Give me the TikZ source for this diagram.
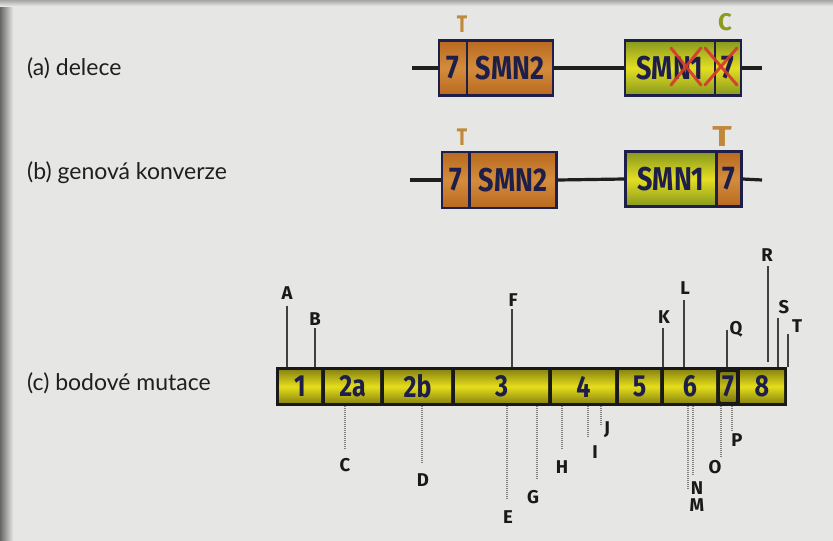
\documentclass[tikz,border=0pt]{standalone}
\usepackage{fontspec}
\usepackage{graphicx}
\setmainfont{Lato}
\newfontfamily\myboxfam{Fira Sans}
\newcommand\mytall[1]{\scalebox{1}[1.22]{#1}}
\definecolor{bgc}{HTML}{E6E6E4}
\definecolor{navy}{HTML}{1D1F4A}
\definecolor{or1}{HTML}{B8691F}
\definecolor{or2}{HTML}{D48C3C}
\definecolor{gr1}{HTML}{86981E}
\definecolor{gr2}{HTML}{E4DE22}
\definecolor{ex1}{HTML}{8E8A12}
\definecolor{ex2}{HTML}{E6DE1A}
\definecolor{ex3}{HTML}{7E7A10}
\definecolor{ex4}{HTML}{C8C018}
\definecolor{redx}{HTML}{D6382E}
\definecolor{tcol}{HTML}{C0883A}
\definecolor{ccol}{HTML}{8C9A1E}
\begin{document}
\begin{tikzpicture}[x=1pt,y=-1pt,
  gline/.style={line width=3.2pt, black!88},
  genebox/.style={draw=navy, line width=2.3pt, inner sep=0pt, text=navy,
     font=\fontsize{27}{27}\selectfont\myboxfam\bfseries},
  obox/.style={genebox, top color=or1, bottom color=or1, middle color=or2},
  gbox/.style={genebox, top color=gr1, bottom color=gr1, middle color=gr2},
  exon/.style={inner sep=0pt, top color=ex1, bottom color=ex1, middle color=ex2,
     text=navy, font=\fontsize{25}{25}\selectfont\myboxfam\bfseries},
  rowlab/.style={anchor=west, inner sep=0pt, text=black!88, font=\fontsize{23}{23}\selectfont},
  mut/.style={inner sep=0pt, text=black!90, font=\fontsize{18.5}{18.5}\selectfont\myboxfam\bfseries},
  mutup/.style={line width=1.5pt, black!75},
  mutdown/.style={line width=1.2pt, black!50, dash pattern=on 1pt off 1pt},
  xline/.style={line width=3pt, redx, opacity=0.9, line cap=round},
  tlab/.style={inner sep=0pt, text=tcol, font=\fontsize{24}{24}\selectfont\myboxfam\bfseries},
]
% background
\fill[bgc] (0,0) rectangle (833,541);
\shade[left color=black!60, right color=bgc] (0,0) rectangle (13,541);
\shade[top color=black!35, bottom color=bgc] (0,0) rectangle (833,6);
\useasboundingbox (0,0) rectangle (833,541);

% row labels
\node[rowlab] (la) at (27,68) {(a) delece};
\node[rowlab] (lb) at (27,173) {(b) genová konverze};
\node[rowlab] (lc) at (27,383) {(c) bodové mutace};

% ---------- row (a)
\coordinate (aL) at (412,68);
\coordinate (aR) at (762,68);
\node[obox, minimum width=28, minimum height=55] (a7) at (453,68) {\mytall{7}};
\node[obox, minimum width=86, minimum height=55] (aS) at (510,68) {\mytall{SMN2}};
\node[gbox, minimum width=90, minimum height=55] (aG) at (670,68) {\mytall{SMN1}};
\node[gbox, minimum width=26, minimum height=55] (aG7) at (728,68) {\mytall{7}};
\draw[gline] (aL) -- (a7.west);
\draw[gline] (aS.east) -- (aG.west);
\draw[gline] (aG7.east) -- (aR);
\node[tlab] (Ta) at (462,24) {\scalebox{0.8}[1]{T}};
\node[tlab, text=ccol] (Ca) at (725,22) {C};
\draw[xline] (671,48) -- (701,85);
\draw[xline] (701,48) -- (671,85);
\draw[xline] (705,48) -- (737,85);
\draw[xline] (737,48) -- (705,85);

% ---------- row (b)
\coordinate (bL) at (410,180);
\coordinate (bR) at (762,180);
\node[obox, minimum width=28, minimum height=56] (b7) at (456,180) {\mytall{7}};
\node[obox, minimum width=87, minimum height=56] (bS) at (513,180) {\mytall{SMN2}};
\node[gbox, minimum width=91, minimum height=55] (bG) at (671,179) {\mytall{SMN1}};
\node[obox, minimum width=25, minimum height=55] (bG7) at (729,179) {\mytall{7}};
\draw[gline] (bL) -- (b7.west);
\draw[gline] (bS.east) -- (bG.west);
\draw[gline] (bG7.east) -- (bR);
\node[tlab] (Tb) at (462,137) {\scalebox{0.8}[1]{T}};
\node[tlab] (Tb2) at (722,137) {\scalebox{1.5}[1.2]{T}};

% ---------- row (c)
\node[fill=black!90, inner sep=0pt, minimum width=511, minimum height=39, anchor=north west] (bar) at (276,367) {};
\foreach \xa/\xb/\t [count=\i] in {279/321/1, 325/380/2a, 384/451/2b, 455/548/3,
    552/615/4, 619/660/5, 664/716/6, 740/784/8} {
  \node[exon, minimum width=\xb-\xa, minimum height=32] (e\i) at ({(\xa+\xb)/2},386.5) {\mytall{\t}};
}
\node[exon, top color=ex3, bottom color=ex3, middle color=ex4, minimum width=15, minimum height=29] (e7) at (728,386.5) {\mytall{7}};

% mutations above the gene
\foreach \n/\lx/\ly/\x/\top in {A/287/293/287/306, B/315/319/315/328, F/513/300/512/309,
    K/664/317/663/328, L/685/288/684/300, Q/736/329/727/330, S/784/307/778/318,
    T/797/326/788/334} {
  \node[mut] (\n) at (\lx,\ly) {\n};
  \coordinate (\n t) at (\x,\top);
  \draw[mutup] (\n t) -- (\n t |- bar.north);
}
\node[mut] (R) at (767,255) {R};
\coordinate (Rt) at (768,266);
\coordinate (Rb) at (768,362);
\draw[mutup] (Rt) -- (Rb);

% mutations below the gene
\foreach \n/\lx/\ly/\x/\bot in {C/345/465/345/450, D/423/480/422/463, E/508/517/507/500,
    G/533/497/537/480, H/562/467/562/450, I/595/452/588/438, J/607/430/601/425,
    M/697/505/688/490, N/697/488/693/475, O/715/467/721/457, P/737/440/732/432} {
  \node[mut] (\n) at (\lx,\ly) {\n};
  \coordinate (\n b) at (\x,\bot);
  \draw[mutdown] (\n b |- bar.south) -- (\n b);
}
\end{tikzpicture}
\end{document}
